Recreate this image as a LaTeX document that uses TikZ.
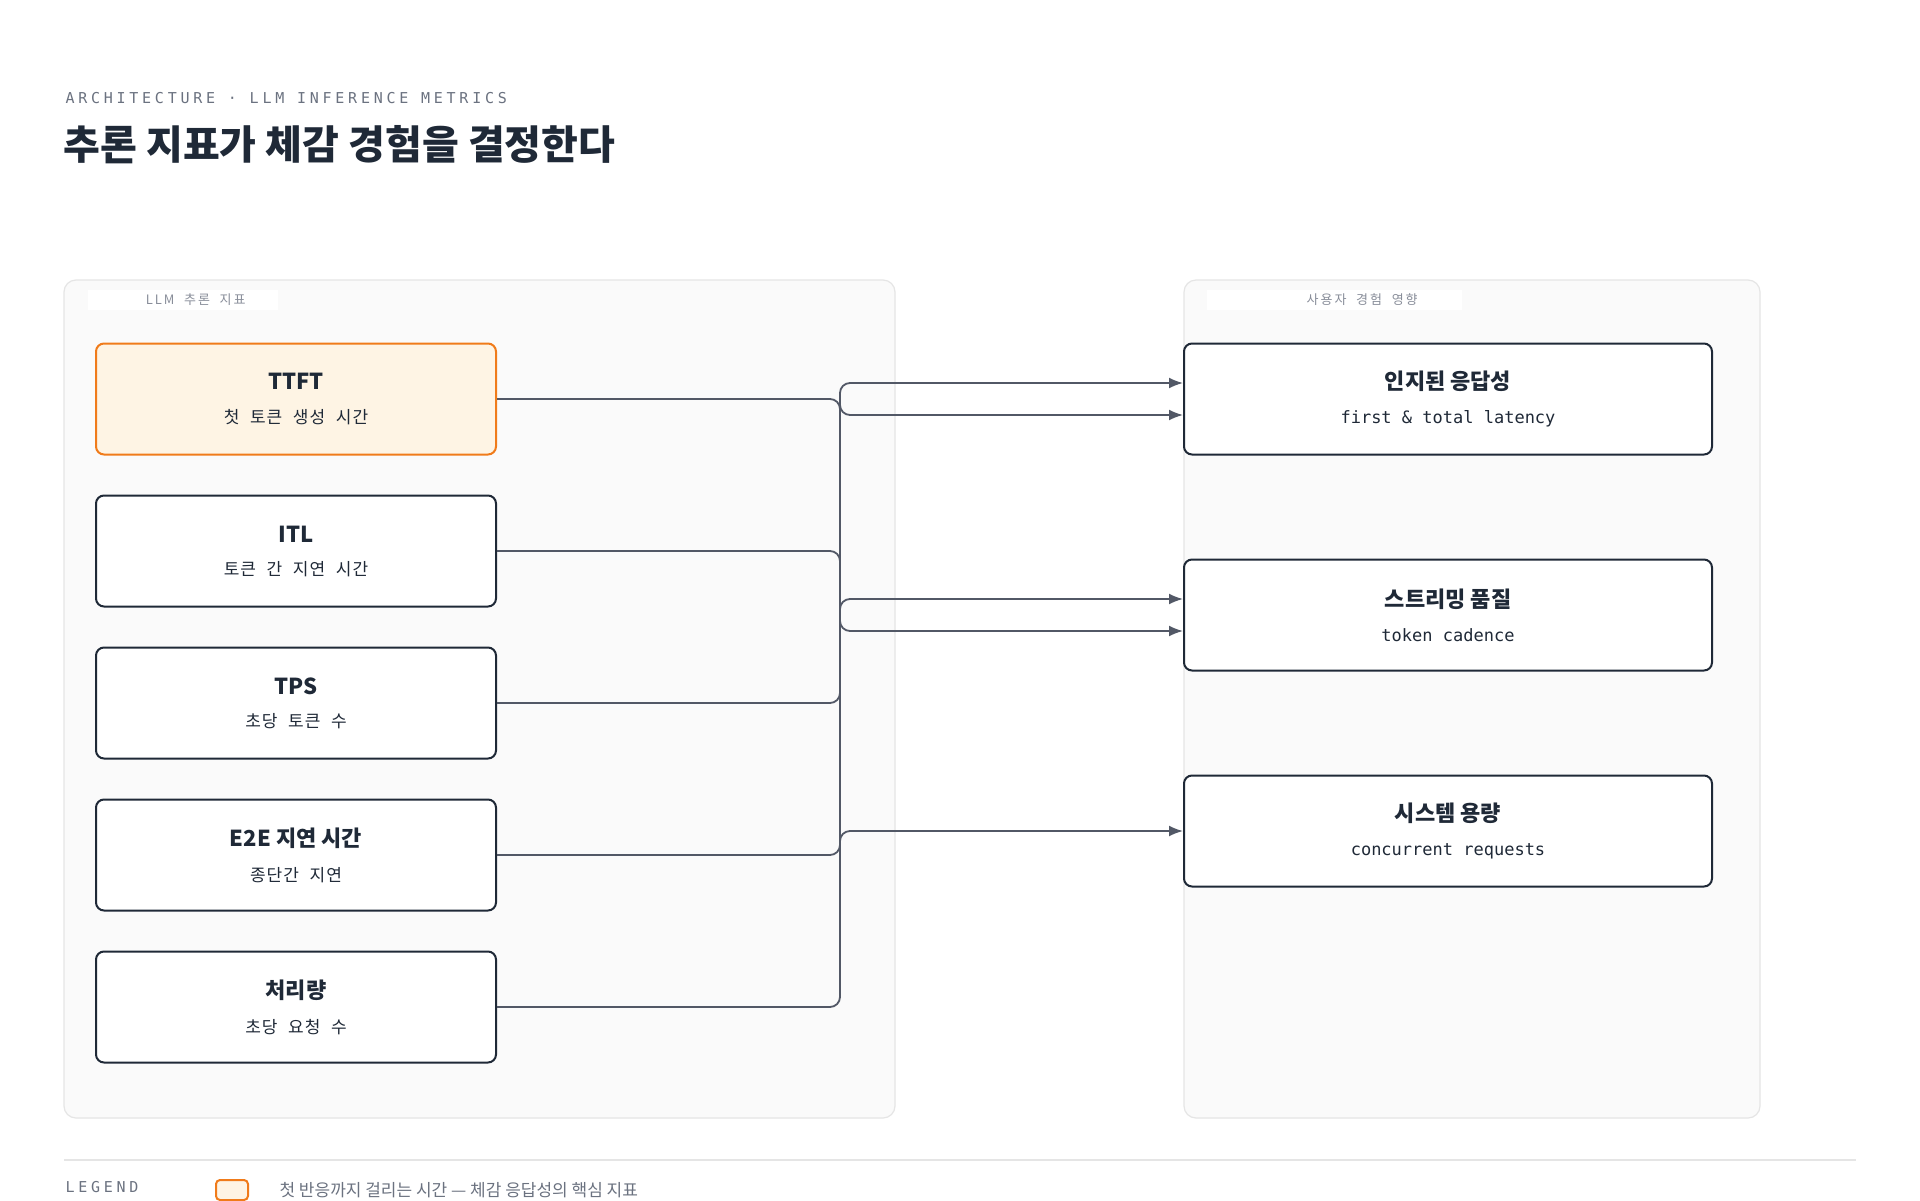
\documentclass[tikz,border=0pt]{standalone}
\usepackage{fontspec}
\setmainfont{Noto Sans CJK KR}
\newfontfamily\subfont[LetterSpace=6,WordSpace=2.2]{Noto Sans CJK KR}
\newfontfamily\monofont{DejaVu Sans Mono}
\newfontfamily\capsfont[LetterSpace=25]{DejaVu Sans Mono}
\newfontfamily\tagfont[LetterSpace=15,WordSpace=2]{Noto Sans CJK KR}
\usetikzlibrary{positioning,arrows.meta}
\definecolor{InkClr}{HTML}{1F2937}
\definecolor{WireClr}{HTML}{525866}
\definecolor{PanelClr}{HTML}{FAFAFA}
\definecolor{PanelLine}{HTML}{E5E5E5}
\definecolor{MutedClr}{HTML}{6B7280}
\definecolor{HotClr}{HTML}{F07B1A}
\definecolor{HotFill}{HTML}{FEF4E4}
\tikzset{
  panel/.style={draw=PanelLine,fill=PanelClr,line width=1.2pt,rounded corners=12pt},
  tag/.style={fill=white,text=MutedClr!80,font=\fontsize{13}{15}\selectfont\tagfont,inner xsep=8pt,inner ysep=4pt,anchor=west},
  metric/.style={draw=InkClr,fill=white,line width=2pt,rounded corners=8pt,
    minimum width=400pt,minimum height=111pt,align=center,text=InkClr},
  effect/.style={metric,minimum width=528pt},
  hot/.style={draw=HotClr,fill=HotFill},
  wire/.style={draw=WireClr,line width=1.8pt,rounded corners=10pt,-{Latex[length=14pt,width=11pt]}},
}
\newcommand{\boxtext}[2]{{\fontsize{22}{30}\selectfont\bfseries #1}\\[18pt]{\fontsize{17}{22}\selectfont\subfont #2}}
\newcommand{\monotext}[2]{{\fontsize{22}{30}\selectfont\bfseries #1}\\[18pt]{\fontsize{17}{22}\selectfont\monofont #2}}
\begin{document}
\begin{tikzpicture}[x=1pt,y=-1pt]
\useasboundingbox[fill=white] (0,0) rectangle (1920,1200);

% header
\node[anchor=west,text=MutedClr,font=\fontsize{15}{18}\selectfont\capsfont] (kicker) at (62,98) {ARCHITECTURE · LLM INFERENCE METRICS};
\node[anchor=west,text=InkClr,font=\fontsize{40}{46}\selectfont\bfseries] (title) at (60,145) {추론 지표가 체감 경험을 결정한다};

% panels
\draw[panel] (64,280) rectangle (895,1118);
\draw[panel] (1184,280) rectangle (1760,1118);
\node[tag,minimum width=190pt] (ltag) at (88,300) {\hspace{25pt}LLM 추론 지표};
\node[tag,minimum width=255pt] (rtag) at (1207,300) {\hspace{55pt}사용자 경험 영향};

% metrics
\node[metric,hot] (ttft) at (296,399) {\boxtext{TTFT}{첫 토큰 생성 시간}};
\node[metric,below=39pt of ttft] (itl) {\boxtext{ITL}{토큰 간 지연 시간}};
\node[metric,below=39pt of itl] (tps) {\boxtext{TPS}{초당 토큰 수}};
\node[metric,below=39pt of tps] (e2e) {\boxtext{E2E 지연 시간}{종단간 지연}};
\node[metric,below=39pt of e2e] (thru) {\boxtext{처리량}{초당 요청 수}};

% effects
\node[effect] (resp) at (1448,399) {\monotext{인지된 응답성}{first \& total latency}};
\node[effect] (stream) at (1448,615) {\monotext{스트리밍 품질}{token cadence}};
\node[effect] (cap) at (1448,831) {\monotext{시스템 용량}{concurrent requests}};

% wires
\coordinate (bus) at (840,0);
\draw[wire] (ttft.east) -- (ttft.east -| bus) -- ([yshift=-16pt]resp.west -| bus) -- ([yshift=-16pt]resp.west);
\draw[wire] (e2e.east) -- (e2e.east -| bus) -- ([yshift=16pt]resp.west -| bus) -- ([yshift=16pt]resp.west);
\draw[wire] (itl.east) -- (itl.east -| bus) -- ([yshift=-16pt]stream.west -| bus) -- ([yshift=-16pt]stream.west);
\draw[wire] (tps.east) -- (tps.east -| bus) -- ([yshift=16pt]stream.west -| bus) -- ([yshift=16pt]stream.west);
\draw[wire] (thru.east) -- (thru.east -| bus) -- (cap.west -| bus) -- (cap.west);

% legend
\draw[PanelLine,line width=1.5pt] (64,1160) -- (1856,1160);
\node[anchor=west,text=MutedClr,font=\fontsize{15}{18}\selectfont\capsfont] (legend) at (62,1187) {LEGEND};
\draw[hot,line width=2pt,rounded corners=4pt] (216,1180) rectangle (248,1200);
\node[anchor=west,text=MutedClr,font=\fontsize{17}{20}\selectfont] (legtext) at (276,1190) {첫 반응까지 걸리는 시간 — 체감 응답성의 핵심 지표};
\end{tikzpicture}
\end{document}
